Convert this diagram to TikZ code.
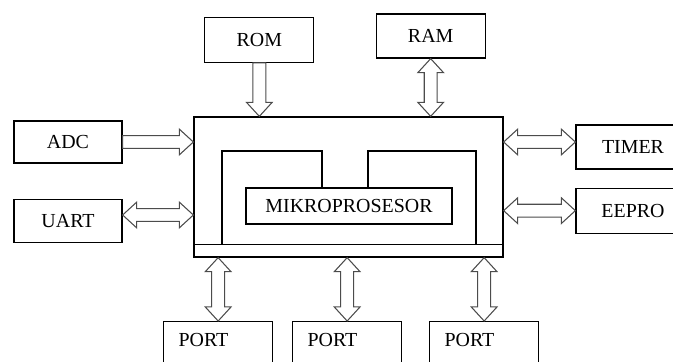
\documentclass[tikz,border=0pt]{standalone}
\usepackage{fontspec}
\setmainfont{Liberation Serif}
\usetikzlibrary{calc}

% sizes of the hollow bus arrows
\newcommand{\shaftw}{5.5pt}
\newcommand{\headw}{11pt}
\newcommand{\headl}{12pt}

% one-way bus arrow, head at #2
\newcommand{\busto}[2]{%
  \draw[busarrow] let \p1=(#1), \p2=(#2),
      \n1={atan2(\y2-\y1,\x2-\x1)}, \n2={veclen(\x2-\x1,\y2-\y1)} in
    [shift={(\p1)}, rotate=\n1]
    (0pt,\shaftw) -- ({\n2-\headl},\shaftw) -- ({\n2-\headl},\headw) -- (\n2,0pt)
    -- ({\n2-\headl},-\headw) -- ({\n2-\headl},-\shaftw) -- (0pt,-\shaftw) -- cycle;}

% two-way bus arrow
\newcommand{\busboth}[2]{%
  \draw[busarrow] let \p1=(#1), \p2=(#2),
      \n1={atan2(\y2-\y1,\x2-\x1)}, \n2={veclen(\x2-\x1,\y2-\y1)} in
    [shift={(\p1)}, rotate=\n1]
    (0pt,0pt) -- (\headl,\headw) -- (\headl,\shaftw) -- ({\n2-\headl},\shaftw)
    -- ({\n2-\headl},\headw) -- (\n2,0pt) -- ({\n2-\headl},-\headw)
    -- ({\n2-\headl},-\shaftw) -- (\headl,-\shaftw) -- (\headl,-\headw) -- cycle;}

\begin{document}
\begin{tikzpicture}[
    box/.style={rectangle, draw=black, line width=1.1pt, font=\fontsize{17}{20}\selectfont},
    portbox/.style={box, anchor=north west, text width=2.37cm, align=left,
                    inner xsep=0.45cm, inner ysep=0pt, text height=0.75cm, text depth=0.87cm},
    busarrow/.style={draw=black!70, fill=white, line width=0.9pt, line join=miter},
    wire/.style={line width=1.1pt}
]
    \clip (0,0) rectangle (20.19,-10.83);

    % microcontroller body
    \node[box, minimum width=9.27cm, minimum height=4.2cm] (mcu) at (10.455,-5.61) {};
    \node[box, minimum width=6.18cm, minimum height=1.08cm] (cpu) at (10.47,-6.18) {MIKROPROSESOR};
    \coordinate (busw) at ([yshift=0.39cm]mcu.south west);
    \coordinate (buse) at ([yshift=0.39cm]mcu.south east);
    \draw[wire] (busw) -- (buse);

    % internal buses
    \draw[wire] (busw -| 6.66,0) -- (6.66,-4.53) -- (9.66,-4.53) -- (cpu.north -| 9.66,0);
    \draw[wire] (cpu.north -| 11.04,0) -- (11.04,-4.53) -- (14.28,-4.53) -- (busw -| 14.28,0);

    % peripherals
    \node[box, minimum width=3.27cm, minimum height=1.35cm] (rom) at (7.78,-1.19) {ROM};
    \node[box, minimum width=3.27cm, minimum height=1.32cm] (ram) at (12.92,-1.08) {RAM};
    \node[box, minimum width=3.24cm, minimum height=1.26cm] (adc) at (2.04,-4.26) {ADC};
    \node[box, minimum width=3.24cm, minimum height=1.29cm] (uart) at (2.04,-6.62) {UART};
    \node[box, minimum width=3.42cm, minimum height=1.32cm] (timer) at (18.99,-4.41) {TIMER};
    \node[box, minimum width=3.42cm, minimum height=1.35cm] (eepro) at (18.99,-6.32) {EEPRO};

    \node[portbox] (port1) at (4.89,-9.63) {PORT};
    \node[portbox] (port2) at (8.76,-9.63) {PORT};
    \node[portbox] (port3) at (12.87,-9.63) {PORT};

    % buses to the body
    \busto{rom.south}{rom.south |- mcu.north}
    \busboth{ram.south}{ram.south |- mcu.north}
    \busto{adc.east}{adc.east -| mcu.west}
    \busboth{[yshift=0.17cm]uart.east}{[yshift=0.17cm]uart.east -| mcu.west}
    \busboth{[yshift=0.15cm]timer.west}{[yshift=0.15cm]timer.west -| mcu.east}
    \busboth{eepro.west}{eepro.west -| mcu.east}
    \busboth{port1.north}{port1.north |- mcu.south}
    \busboth{port2.north}{port2.north |- mcu.south}
    \busboth{port3.north}{port3.north |- mcu.south}

\end{tikzpicture}
\end{document}
